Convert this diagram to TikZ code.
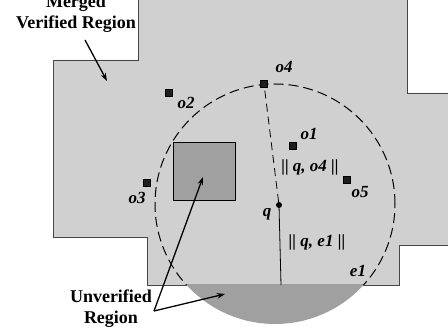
\documentclass[tikz,border=0pt]{standalone}
\usepackage{fontspec}
\setmainfont{Liberation Serif}
\usetikzlibrary{arrows.meta}
\definecolor{lightreg}{RGB}{208,208,208}
\definecolor{darkreg}{RGB}{160,160,160}
\definecolor{edgegray}{RGB}{70,70,70}
\definecolor{markc}{RGB}{30,30,30}
\tikzset{
  obj/.style={draw=black, fill=markc, minimum size=7pt, inner sep=0pt, line width=0.4pt},
  lbl/.style={font=\fontsize{17}{19}\selectfont\bfseries\itshape, inner sep=0pt},
  callout/.style={font=\fontsize{18}{21}\selectfont\bfseries, align=center, inner sep=0pt},
  pointer/.style={line width=1.3pt, -{Stealth[length=8pt,width=5.5pt]}},
  boundary/.style={draw=edgegray, line width=0.9pt},
  dashcirc/.style={line width=1pt, dash pattern=on 10pt off 5pt},
}
\begin{document}
\begin{tikzpicture}[x=1pt,y=-1pt]
\useasboundingbox (0,0) rectangle (448,336);
% merged verified region
\fill[lightreg] (53,60) -- (138,60) -- (138,0) -- (407,0) -- (407,93) -- (448,93) -- (448,245) -- (399,245) -- (399,285) -- (147,285) -- (147,237) -- (53,237) -- cycle;
\draw[boundary] (138,0) -- (138,60) -- (53,60) -- (53,237) -- (147,237) -- (147,285) -- (399,285) -- (399,245) -- (448,245);
\draw[boundary] (407,0) -- (407,93) -- (448,93);
% unverified circle segment
\begin{scope}
  \clip (0,285) rectangle (448,336);
  \fill[darkreg] (275,204) circle[radius=120pt];
\end{scope}
% dashed circle (above boundary)
\begin{scope}
  \clip (0,0) rectangle (448,285);
  \draw[dashcirc] (275,204) circle[radius=120pt];
\end{scope}
% unverified square
\node[draw=black, fill=darkreg, line width=0.8pt, minimum width=62pt, minimum height=58pt, inner sep=0pt] (sq) at (204,171) {};
% objects
\node[obj] (o4) at (264,84) {};
\node[obj] (o2) at (169,93) {};
\node[obj] (o1) at (293,146) {};
\node[obj] (o3) at (147,183) {};
\node[obj] (o5) at (347,180) {};
\node[lbl] at (284,67) {o4};
\node[lbl] at (186,103) {o2};
\node[lbl] at (309,134) {o1};
\node[lbl] at (137,198) {o3};
\node[lbl] at (360,192) {o5};
% query point
\node[circle, fill=black, minimum size=6pt, inner sep=0pt] (q) at (279,205) {};
\coordinate (eb) at (281,285);
\draw[line width=0.8pt] (q) -- (eb);
\draw[line width=0.8pt, dash pattern=on 8pt off 5pt] (q) -- (o4);
\node[lbl] at (267,214) {q};
\node[lbl] at (310,167) {|| q, o4 ||};
\node[lbl] at (317,242) {|| q, e1 ||};
\node[lbl] at (358,271) {e1};
% callouts
\node[callout] (mvr) at (76,13.5) {Merged\\Verified Region};
\node[callout] (unv) at (111,308.5) {Unverified\\Region};
\coordinate (mvrs) at (85,40);
\coordinate (mvrt) at (107,81);
\draw[pointer] (mvrs) -- (mvrt);
\coordinate (us) at (154,311);
\coordinate (ut1) at (225,294);
\coordinate (ut2) at (203,177);
\draw[pointer] (us) -- (ut1);
\draw[pointer] (us) -- (ut2);
\end{tikzpicture}
\end{document}
